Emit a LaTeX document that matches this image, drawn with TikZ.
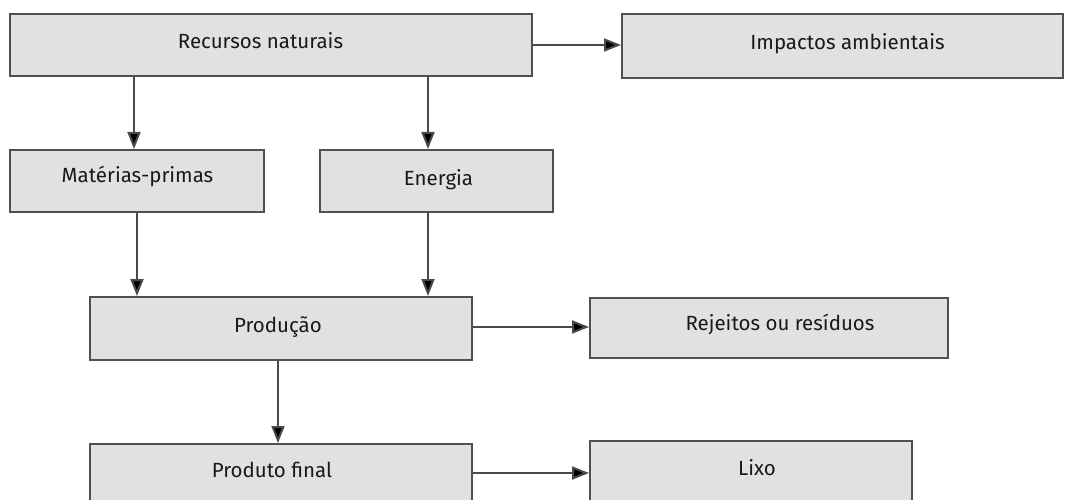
\documentclass[tikz,border=0pt]{standalone}
\usepackage{fontspec}
\setmainfont{Fira Sans}
\usetikzlibrary{arrows.meta}
\definecolor{boxfill}{HTML}{E1E1E1}
\definecolor{boxline}{HTML}{505050}
\definecolor{arrline}{HTML}{4A4A4A}
\tikzset{
  box/.style={draw=boxline, fill=boxfill, line width=2pt, inner sep=0pt},
  lbl/.style={inner sep=0pt, anchor=base, font=\fontsize{20.5}{24}\selectfont, text=black!90},
  arr/.style={draw=arrline, line width=2pt, -{Triangle[length=17pt,width=13pt,fill=black]}},
}
\begin{document}
\begin{tikzpicture}[x=1pt,y=-1pt]
\useasboundingbox (0,0) rectangle (1065,500);
\clip (0,0) rectangle (1065,500);
% boxes
\node[box, minimum width=522pt, minimum height=62pt] (rec) at (271,45) {};
\node[box, minimum width=441pt, minimum height=64pt] (imp) at (842.5,46) {};
\node[box, minimum width=254pt, minimum height=62pt] (mp) at (137,181) {};
\node[box, minimum width=233pt, minimum height=62pt] (en) at (436.5,181) {};
\node[box, minimum width=382pt, minimum height=63pt] (prod) at (281,328.5) {};
\node[box, minimum width=358pt, minimum height=60pt] (rej) at (769,328) {};
\node[box, minimum width=382pt, minimum height=80pt, anchor=north] (pf) at (281,443) {};
\node[box, minimum width=322pt, minimum height=80pt, anchor=north] (lixo) at (751,440) {};
% texts
\node[lbl] (rect) at (260.5,49) {Recursos naturais};
\node[lbl] (impt) at (847.5,50) {Impactos ambientais};
\node[lbl] (mpt) at (137.5,182) {Matérias-primas};
\node[lbl] (ent) at (438.5,185) {Energia};
\node[lbl] (prodt) at (278,332) {Produção};
\node[lbl] (rejt) at (780,330) {Rejeitos ou resíduos};
\node[lbl] (pft) at (272,477) {Produto final};
\node[lbl] (lixot) at (757,475) {Lixo};
% connectors
\draw[arr] (rec.east) -- (rec.east -| imp.west);
\draw[arr] ([xshift=-137pt]rec.south) -- ([xshift=-3pt]mp.north);
\draw[arr] ([xshift=157pt]rec.south) -- ([xshift=-8.5pt]en.north);
\draw[arr] (mp.south) -- (mp.south |- prod.north);
\draw[arr] ([xshift=-8.5pt]en.south) -- ([xshift=-8.5pt]en.south |- prod.north);
\draw[arr] ([yshift=1.5pt]prod.east) -- ([yshift=1.5pt]prod.east -| rej.west);
\draw[arr] ([xshift=-3pt]prod.south) -- ([xshift=-3pt]prod.south |- pf.north);
\draw[arr] (pf.east |- 0,473) -- (lixo.west |- 0,473);
\end{tikzpicture}
\end{document}
